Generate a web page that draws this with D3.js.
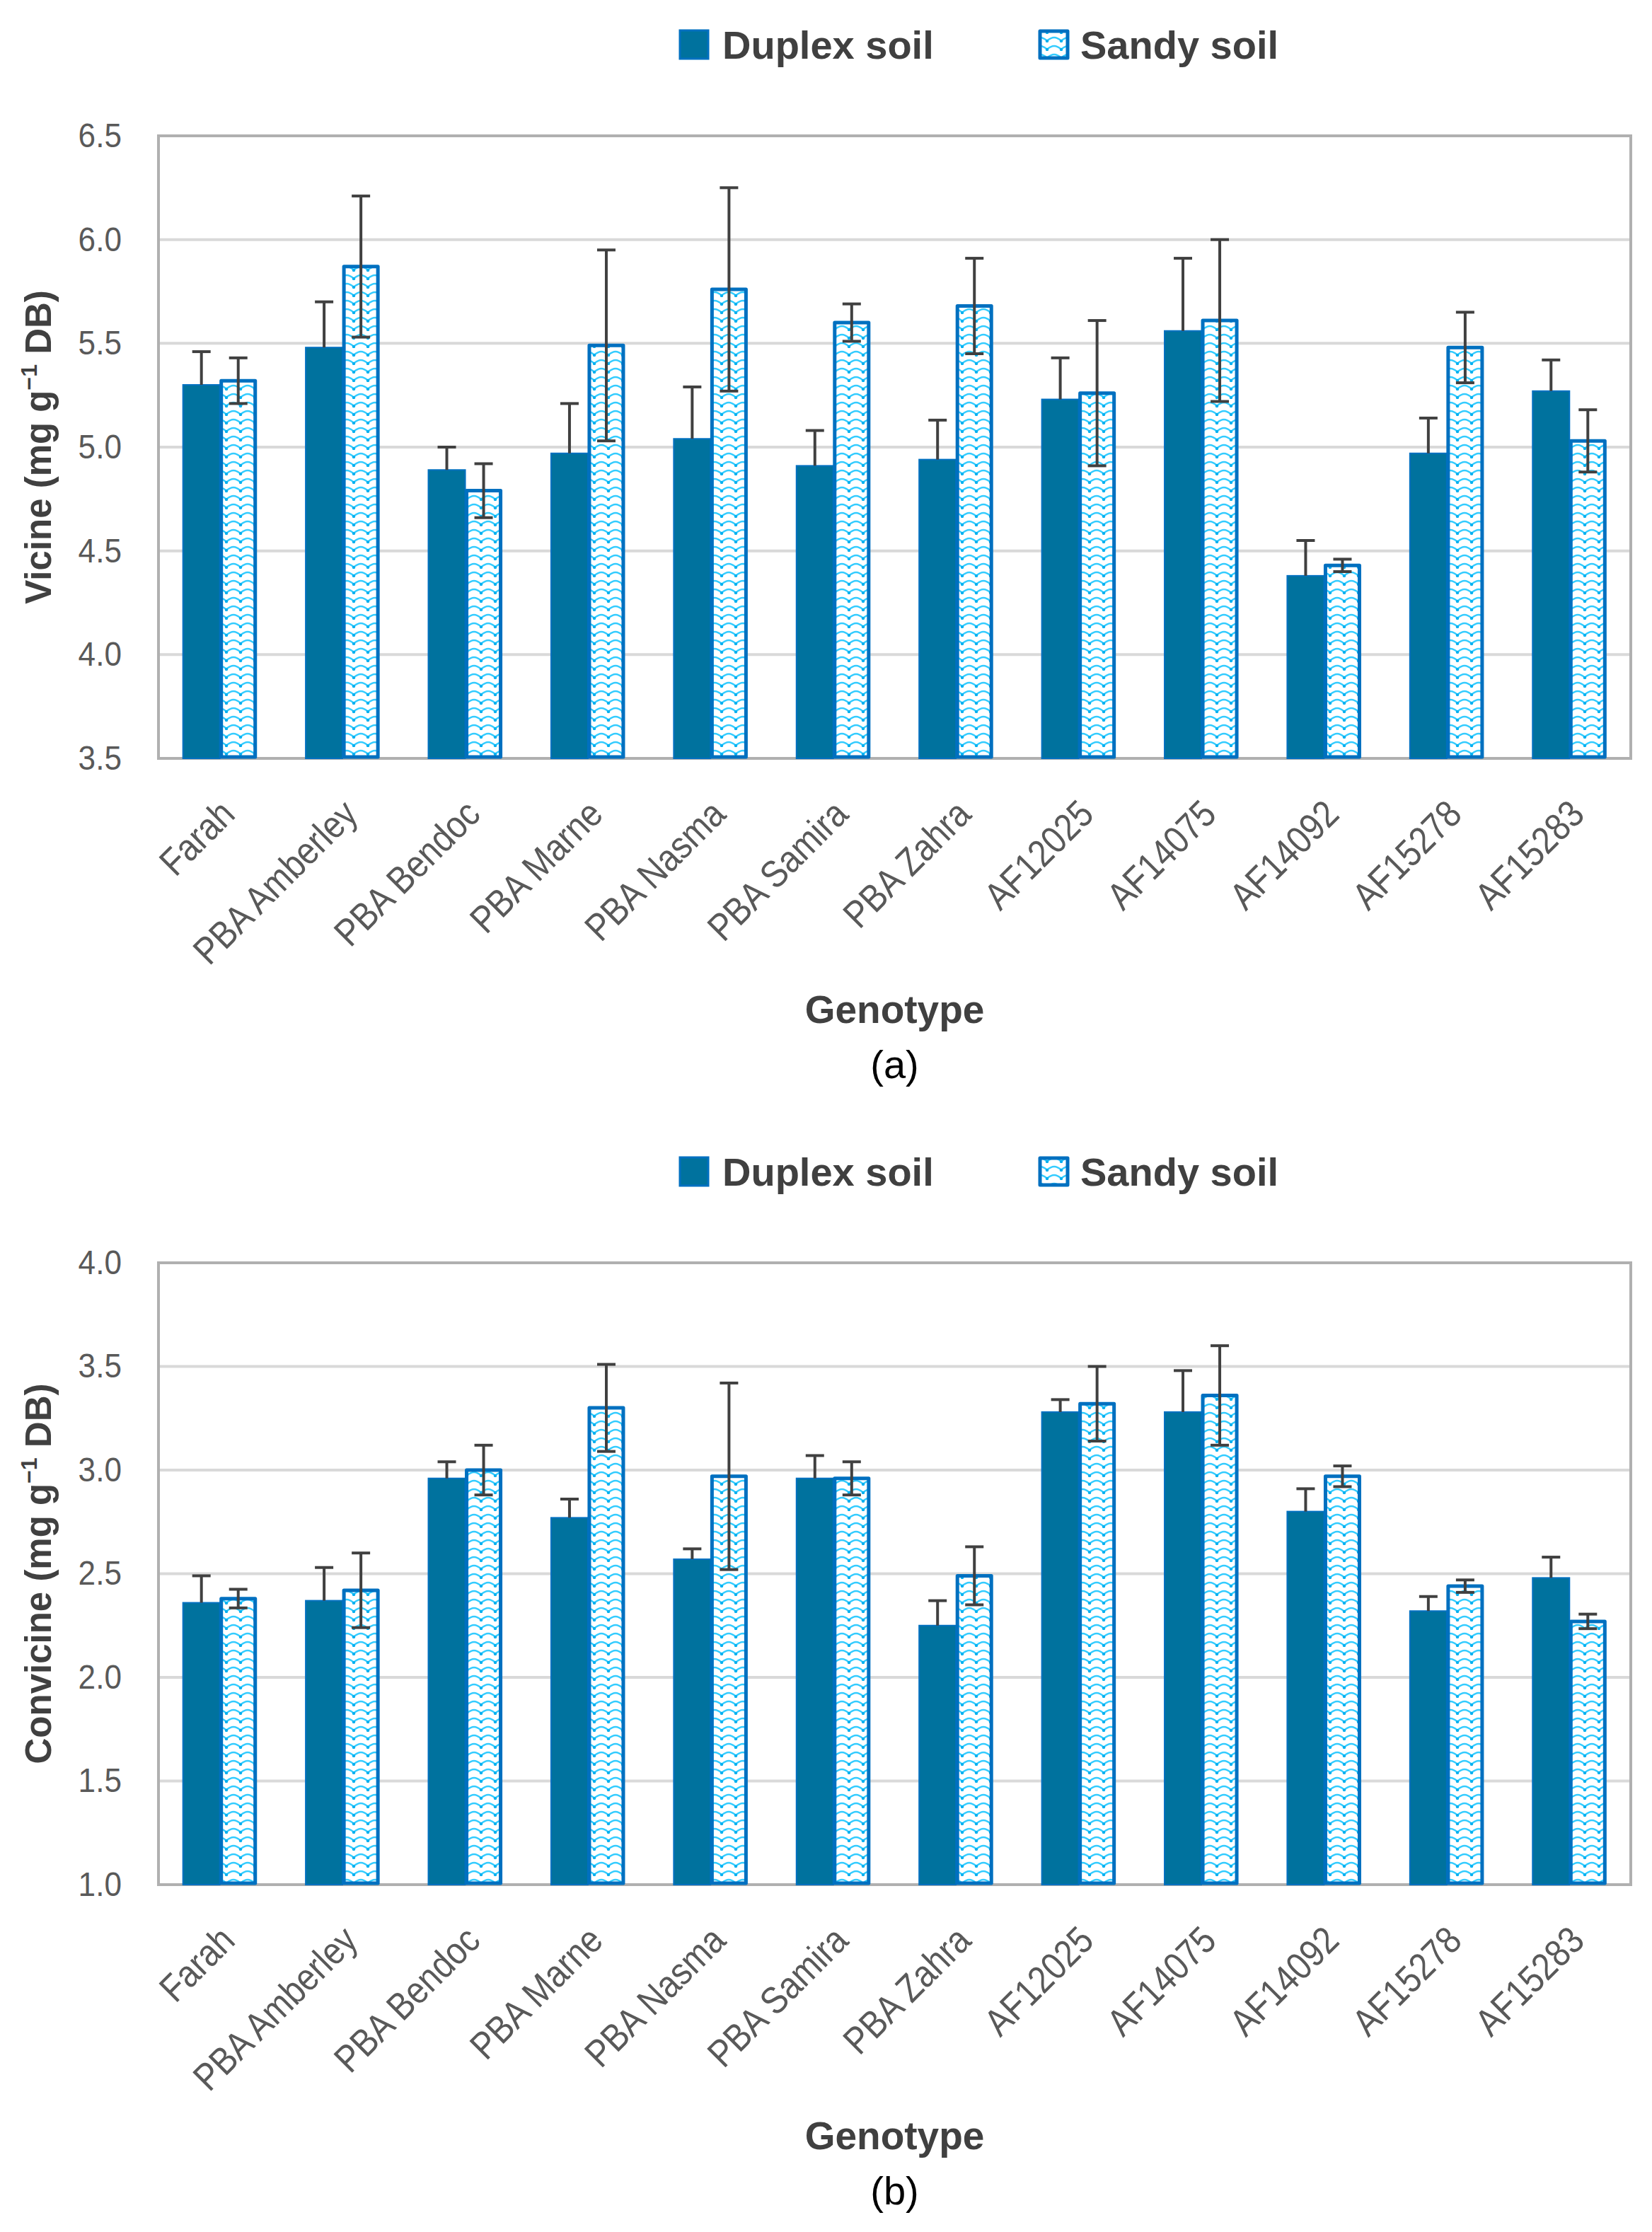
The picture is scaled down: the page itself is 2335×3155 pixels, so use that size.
<!DOCTYPE html>
<html>
<head>
  <meta charset="UTF-8">
  <style>
    body { margin: 0; background: #fff; }
    svg { display: block; }
    text { font-family: "Liberation Sans", Arial, sans-serif; }
  </style>
</head>
<body>
<svg></svg>
<script src="https://d3js.org/d3.v7.min.js"></script>
<script>

// data
const genotypes = ["Farah", "PBA Amberley", "PBA Bendoc", "PBA Marne", "PBA Nasma", "PBA Samira",
  "PBA Zahra", "AF12025", "AF14075", "AF14092", "AF15278", "AF15283"];
const series = ["Duplex soil", "Sandy soil"];

const vicineDuplex    = [5.30, 5.48, 4.89, 4.97, 5.04, 4.91, 4.94, 5.23, 5.56, 4.38, 4.97, 5.27];
const vicineDuplexErr = [0.16, 0.22, 0.11, 0.24, 0.25, 0.17, 0.19, 0.20, 0.35, 0.17, 0.17, 0.15];
const vicineSandy     = [5.32, 5.87, 4.79, 5.49, 5.76, 5.60, 5.68, 5.26, 5.61, 4.43, 5.48, 5.03];
const vicineSandyErr  = [0.11, 0.34, 0.13, 0.46, 0.49, 0.09, 0.23, 0.35, 0.39, 0.03, 0.17, 0.15];
const vicineTicks = [3.5, 4.0, 4.5, 5.0, 5.5, 6.0, 6.5];

const convicineDuplex    = [2.36, 2.37, 2.96, 2.77, 2.57, 2.96, 2.25, 3.28, 3.28, 2.80, 2.32, 2.48];
const convicineDuplexErr = [0.13, 0.16, 0.08, 0.09, 0.05, 0.11, 0.12, 0.06, 0.20, 0.11, 0.07, 0.10];
const convicineSandy     = [2.38, 2.42, 3.00, 3.30, 2.97, 2.96, 2.49, 3.32, 3.36, 2.97, 2.44, 2.27];
const convicineSandyErr  = [0.045, 0.18, 0.12, 0.21, 0.45, 0.08, 0.14, 0.18, 0.24, 0.05, 0.03, 0.035];
const convicineTicks = [1.0, 1.5, 2.0, 2.5, 3.0, 3.5, 4.0];

const width = 2335, height = 3155;
const left = 224, right = 2305;
const darkBlue = "#00729e", edgeBlue = "#0070c0", waveBlue = "#33ccff";

let svg = d3.select("svg")
    .attr("width", width)
    .attr("height", height);

svg.append("rect").attr("width", width).attr("height", height).attr("fill", "#fff");

// wave pattern for sandy soil
let pat = svg.append("defs").append("pattern")
    .attr("id", "wave")
    .attr("patternUnits", "userSpaceOnUse")
    .attr("width", 20).attr("height", 12);
pat.append("rect").attr("width", 20).attr("height", 12).attr("fill", "#fff");
pat.append("path")
    .attr("d", "M0,10 Q10,0 20,10")
    .attr("fill", "none")
    .attr("stroke", waveBlue)
    .attr("stroke-width", 2.4);
pat.append("circle").attr("cx", 0).attr("cy", 10).attr("r", 2.2).attr("fill", "#00b0f0");
pat.append("circle").attr("cx", 20).attr("cy", 10).attr("r", 2.2).attr("fill", "#00b0f0");

function drawPanel(p) {
  let g = svg.append("g");

  let x = d3.scaleBand().domain(genotypes).range([left, right]);
  let xs = d3.scaleBand().domain(series)
      .range([x.bandwidth() * 0.2, x.bandwidth() * 0.8]);
  let y = d3.scaleLinear().domain(d3.extent(p.ticks)).range([p.bottom, p.top]);

  // gridlines
  g.append("g")
    .selectAll("line")
    .data(p.ticks.slice(1, -1))
    .join("line")
    .attr("x1", left).attr("x2", right)
    .attr("y1", d => y(d)).attr("y2", d => y(d))
    .attr("stroke", "#d9d9d9")
    .attr("stroke-width", 4);

  // plot frame
  g.append("rect")
    .attr("x", left).attr("y", p.top)
    .attr("width", right - left).attr("height", p.bottom - p.top)
    .attr("fill", "none")
    .attr("stroke", "#b0b0b0")
    .attr("stroke-width", 4);

  // y axis labels
  let yAxis = d3.axisLeft(y).tickValues(p.ticks).tickFormat(d3.format(".1f"))
      .tickSize(0).tickPadding(0);
  let ya = g.append("g").attr("transform", `translate(${left - 52},0)`).call(yAxis);
  ya.select(".domain").remove();
  ya.selectAll("text")
    .attr("font-size", 48)
    .attr("fill", "#595959")
    .attr("font-family", "'Liberation Sans', Arial, sans-serif")
    .attr("transform", "scale(0.92,1)");

  // x axis labels
  g.append("g")
    .selectAll("text")
    .data(genotypes)
    .join("text")
    .attr("transform", d => `translate(${x(d) + x.bandwidth() / 2 + 24},${p.bottom + 82}) rotate(-45) scale(0.87,1)`)
    .attr("text-anchor", "end")
    .attr("font-size", 54)
    .attr("fill", "#595959")
    .text(d => d);

  let rows = genotypes.map((d, i) => ({
    name: d, duplex: p.duplex[i], duplexErr: p.duplexErr[i], sandy: p.sandy[i], sandyErr: p.sandyErr[i]
  }));

  // bars
  g.append("g")
    .selectAll("rect")
    .data(rows)
    .join("rect")
    .attr("x", d => x(d.name) + xs("Duplex soil"))
    .attr("y", d => y(d.duplex))
    .attr("width", xs.bandwidth())
    .attr("height", d => p.bottom - y(d.duplex))
    .attr("fill", darkBlue)
    .attr("stroke", edgeBlue)
    .attr("stroke-width", 2);

  g.append("g")
    .selectAll("rect")
    .data(rows)
    .join("rect")
    .attr("x", d => x(d.name) + xs("Sandy soil") + 2)
    .attr("y", d => y(d.sandy))
    .attr("width", xs.bandwidth() - 4)
    .attr("height", d => p.bottom - y(d.sandy) - 2)
    .attr("fill", "url(#wave)")
    .attr("stroke", edgeBlue)
    .attr("stroke-width", 5)
    .attr("stroke-linejoin", "round");

  // error bars: duplex plus only, sandy both ways
  let errs = [];
  rows.forEach(d => {
    errs.push({ cx: x(d.name) + xs("Duplex soil") + xs.bandwidth() / 2, lo: d.duplex, hi: d.duplex + d.duplexErr, lowCap: false });
    errs.push({ cx: x(d.name) + xs("Sandy soil") + xs.bandwidth() / 2, lo: d.sandy - d.sandyErr, hi: d.sandy + d.sandyErr, lowCap: true });
  });
  let eg = g.append("g").attr("stroke", "#404040").attr("stroke-width", 4);
  eg.selectAll(".stem").data(errs).join("line")
    .attr("x1", d => d.cx).attr("x2", d => d.cx)
    .attr("y1", d => y(d.lo)).attr("y2", d => y(d.hi));
  eg.selectAll(".cap").data(errs).join("line")
    .attr("x1", d => d.cx - 13).attr("x2", d => d.cx + 13)
    .attr("y1", d => y(d.hi)).attr("y2", d => y(d.hi));
  eg.selectAll(".lcap").data(errs.filter(d => d.lowCap)).join("line")
    .attr("x1", d => d.cx - 13).attr("x2", d => d.cx + 13)
    .attr("y1", d => y(d.lo)).attr("y2", d => y(d.lo));

  // y title
  let yt = g.append("text")
    .attr("transform", `translate(72,${(p.top + p.bottom) / 2}) rotate(-90)`)
    .attr("text-anchor", "middle")
    .attr("font-size", 51)
    .attr("font-weight", "bold")
    .attr("fill", "#404040");
  yt.append("tspan").text(p.yTitle + " (mg g");
  yt.append("tspan").attr("font-size", 32).attr("dy", -20).text("\u22121");
  yt.append("tspan").attr("dy", 20).text(" DB)");

  // x title and panel letter
  g.append("text")
    .attr("x", (left + right) / 2).attr("y", p.bottom + 374)
    .attr("text-anchor", "middle")
    .attr("font-size", 55)
    .attr("font-weight", "bold")
    .attr("fill", "#404040")
    .text("Genotype");
  g.append("text")
    .attr("x", (left + right) / 2).attr("y", p.bottom + 452)
    .attr("text-anchor", "middle")
    .attr("font-size", 56)
    .attr("fill", "#000")
    .text(p.letter);

  // legend
  let lg = g.append("g");
  let ly = p.top - 109;
  lg.append("rect")
    .attr("x", 961).attr("y", ly - 40).attr("width", 40).attr("height", 40)
    .attr("fill", darkBlue).attr("stroke", edgeBlue).attr("stroke-width", 3);
  lg.append("text")
    .attr("x", 1021).attr("y", ly)
    .attr("font-size", 56).attr("font-weight", "bold").attr("fill", "#404040")
    .text(series[0]);
  lg.append("rect")
    .attr("x", 1470).attr("y", ly - 39).attr("width", 39).attr("height", 38)
    .attr("fill", "url(#wave)").attr("stroke", edgeBlue).attr("stroke-width", 5)
    .attr("stroke-linejoin", "round");
  lg.append("text")
    .attr("x", 1527).attr("y", ly)
    .attr("font-size", 56).attr("font-weight", "bold").attr("fill", "#404040")
    .text(series[1]);
}

drawPanel({
  top: 192, bottom: 1072, ticks: vicineTicks, yTitle: "Vicine", letter: "(a)",
  duplex: vicineDuplex, duplexErr: vicineDuplexErr, sandy: vicineSandy, sandyErr: vicineSandyErr
});

drawPanel({
  top: 1785, bottom: 2664, ticks: convicineTicks, yTitle: "Convicine", letter: "(b)",
  duplex: convicineDuplex, duplexErr: convicineDuplexErr, sandy: convicineSandy, sandyErr: convicineSandyErr
});

</script>
</body>
</html>
